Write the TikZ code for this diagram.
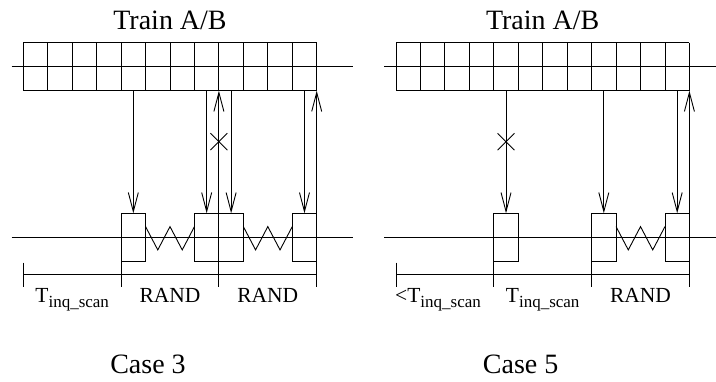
\documentclass[tikz,border=0pt]{standalone}
\usepackage{fontspec}
\setmainfont{Liberation Serif}
\usetikzlibrary{arrows.meta,shapes.misc}
\newcommand{\tinq}{T\raisebox{-5pt}{\fontsize{17}{17}\selectfont inq\_scan}}
\begin{document}
\begin{tikzpicture}[x=24.45pt, y=-1pt, line width=0.9pt,
    arr/.style={-{Straight Barb[length=19pt,width=10pt]}},
    slot/.style={draw, rectangle, inner sep=0pt, outer sep=0pt, minimum width=24.45pt, minimum height=48.4pt, anchor=north west},
    lbl/.style={anchor=base, inner sep=0pt, font=\fontsize{21.5}{22}\selectfont},
    big/.style={anchor=base, inner sep=0pt, font=\fontsize{28}{28}\selectfont}]
    \useasboundingbox (-0.953,0) rectangle (28.331,381);
    % Case 3
    \node[big] (titleL) at (6,29.3) {Train A/B};
    \foreach \k in {0,...,12} \draw (\k,42.7) -- (\k,90.7);
    \draw (0,42.7) -- (12,42.7) (0,90.7) -- (12,90.7);
    \draw (-0.48,66.7) -- (13.5,66.7);
    \draw (-0.48,237.7) -- (13.5,237.7);
    \node[slot] (l1) at (4,213.3) {};
    \node[slot] (l2) at (7,213.3) {};
    \node[slot] (l3) at (8,213.3) {};
    \node[slot] (l4) at (11,213.3) {};
    \foreach \k in {4,7,8,11} \coordinate (lc\k) at (\k+0.5,90.7);
    \coordinate (lg8) at (8,90.7);
    \coordinate (lg12) at (12,90.7);
    \coordinate (lb4) at (4,286.7);
    \coordinate (lb8) at (8,286.7);
    \coordinate (lb12) at (12,286.7);
    \draw[arr] (lc4) -- (l1.north);
    \draw[arr] (lc7) -- (l2.north);
    \draw[arr] (lc8) -- (l3.north);
    \draw[arr] (lc11) -- (l4.north);
    \draw[arr] (lb8) -- (lg8);
    \draw[arr] (lb12) -- (lg12);
    \draw (l1.south west) -- (lb4);
    \node[cross out, draw, minimum size=16pt, inner sep=0pt] (lx) at (8,141.7) {};
    \draw (l1.north east) ++(0,13.3) -- ++(0.5,23.3) -- ++(0.5,-23.3) -- ++(0.5,23.3) -- ++(0.5,-23.3);
    \draw (l3.north east) ++(0,13.3) -- ++(0.5,23.3) -- ++(0.5,-23.3) -- ++(0.5,23.3) -- ++(0.5,-23.3);
    \draw (0,274.5) -- (12,274.5);
    \draw (0,262.5) -- (0,286.7);
    \node[lbl] (lt) at (2,302) {\tinq};
    \node[lbl] (lr1) at (6,302) {RAND};
    \node[lbl] (lr2) at (10,302) {RAND};
    \node[big] (case3) at (5.1,373) {Case 3};
    % Case 5
    \begin{scope}[xshift=372.7pt]
        \node[big] (titleR) at (6,29.3) {Train A/B};
        \foreach \k in {0,...,12} \draw (\k,42.7) -- (\k,90.7);
        \draw (0,42.7) -- (12,42.7) (0,90.7) -- (12,90.7);
        \draw (-0.48,66.7) -- (13.5,66.7);
        \draw (-0.48,237.7) -- (13.5,237.7);
        \node[slot] (r1) at (4,213.3) {};
        \node[slot] (r2) at (8,213.3) {};
        \node[slot] (r3) at (11,213.3) {};
        \foreach \k in {4,8,11} \coordinate (rc\k) at (\k+0.5,90.7);
        \coordinate (rg12) at (12,90.7);
        \coordinate (rb4) at (4,286.7);
        \coordinate (rb8) at (8,286.7);
        \coordinate (rb12) at (12,286.7);
        \draw[arr] (rc4) -- (r1.north);
        \draw[arr] (rc8) -- (r2.north);
        \draw[arr] (rc11) -- (r3.north);
        \draw[arr] (rb12) -- (rg12);
        \draw (r1.south west) -- (rb4);
        \draw (r2.south west) -- (rb8);
        \node[cross out, draw, minimum size=16pt, inner sep=0pt] (rx) at (4.5,141.7) {};
        \draw (r2.north east) ++(0,13.3) -- ++(0.5,23.3) -- ++(0.5,-23.3) -- ++(0.5,23.3) -- ++(0.5,-23.3);
        \draw (0,274.5) -- (12,274.5);
        \draw (0,262.5) -- (0,286.7);
        \node[lbl, anchor=base west] (rlt) at (-0.05,302) {<\tinq};
        \node[lbl] (rt) at (6,302) {\tinq};
        \node[lbl] (rr) at (10,302) {RAND};
        \node[big] (case5) at (5.1,373) {Case 5};
    \end{scope}
\end{tikzpicture}
\end{document}
